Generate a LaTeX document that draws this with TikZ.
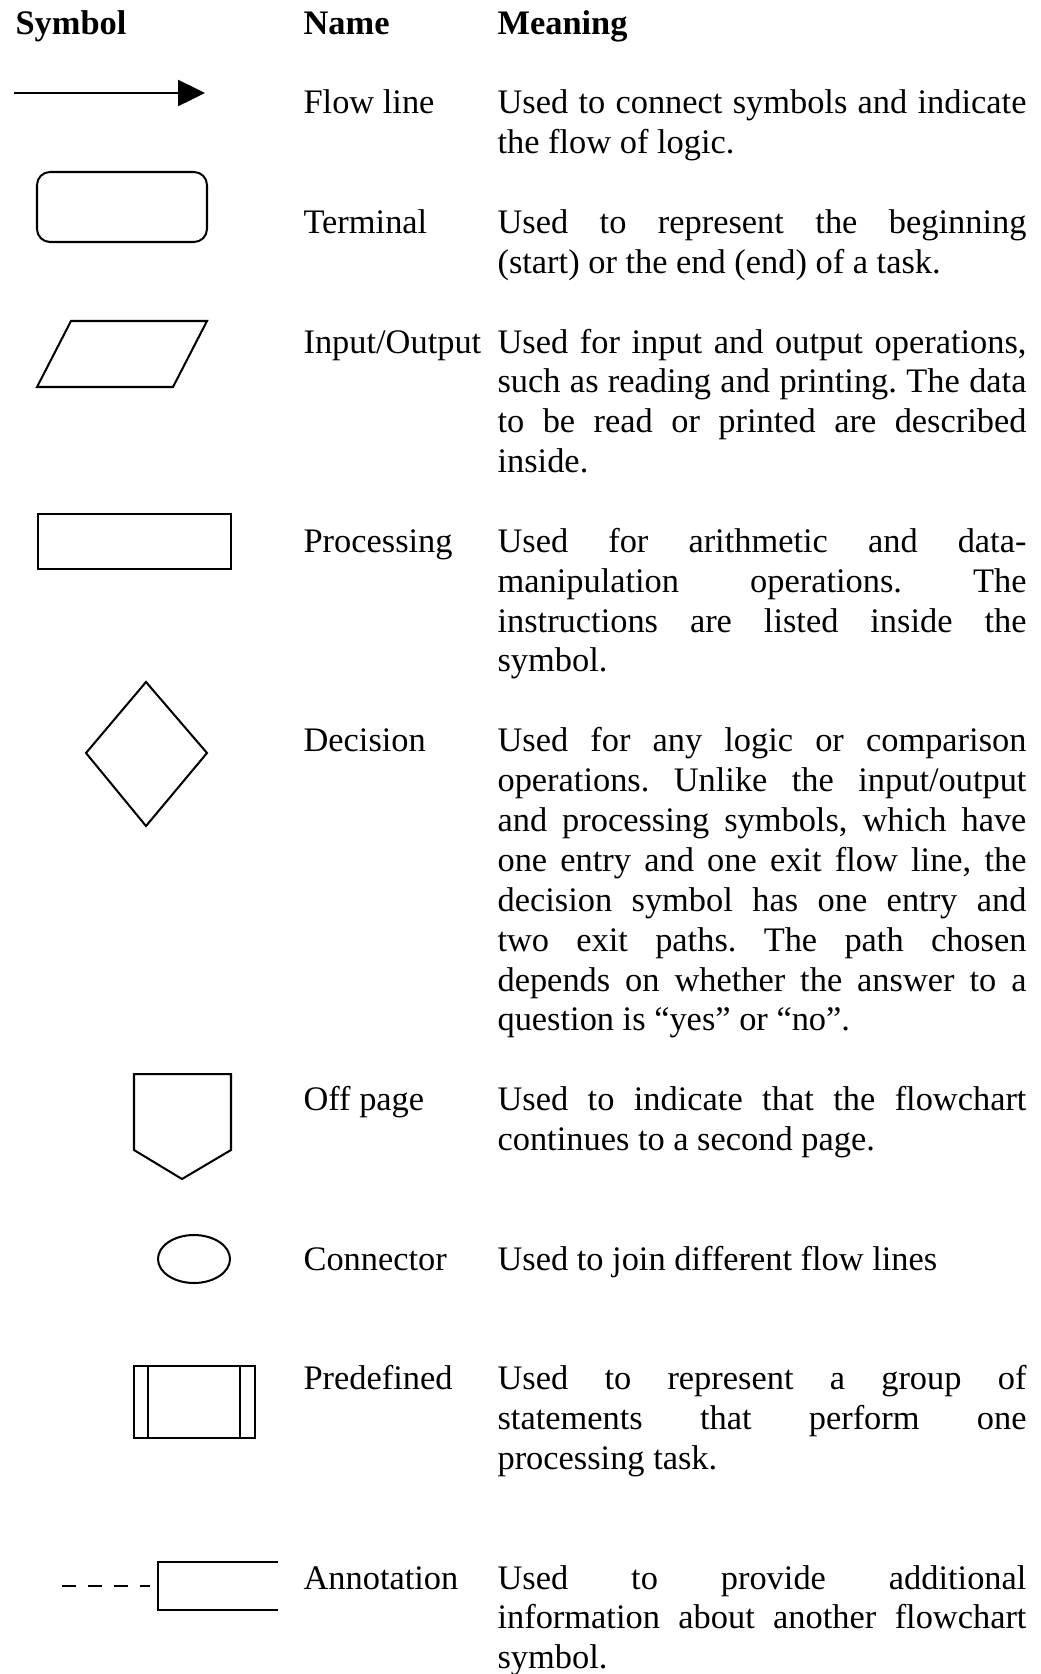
\documentclass[tikz,border=0pt]{standalone}
\usepackage{fontspec}
\setmainfont{Liberation Serif}
\usetikzlibrary{arrows.meta, positioning}
\newlength{\meaningwidth}
\setlength{\meaningwidth}{183pt}
\newcommand{\tablefont}{\fontsize{11.9pt}{13.8pt}\selectfont\frenchspacing}
\newcommand{\spreadline}[1]{\makebox[\meaningwidth][s]{\spaceskip=0pt\xspaceskip=0pt\relax #1}}
\tikzset{
    head_text/.style={anchor=base west, inner sep=0pt, font=\tablefont\bfseries},
    name_text/.style={anchor=base west, inner sep=0pt, font=\tablefont},
    meaning_text/.style={anchor=base west, inner sep=0pt, font=\tablefont, text width=\meaningwidth,
        execute at begin node={\spaceskip=0pt\xspaceskip=0pt\relax}},
    symbol_line/.style={line width=0.7pt},
    flow_arrow/.style={line width=0.7pt, -{Triangle[length=9.3pt, width=9pt]}},
    annot_dash/.style={line width=0.7pt, dash pattern=on 4.8pt off 4.2pt},
}
\begin{document}
\begin{tikzpicture}[x=0.346pt, y=-0.346pt]
            \useasboundingbox (0,0) rectangle (1040,1674);
            %%%%%%%%%%
            % HEADER %
            %%%%%%%%%%
            \node (head_symbol) [head_text] at (15,34) {Symbol};
            \node (head_name) [head_text] at (303,34) {Name};
            \node (head_meaning) [head_text] at (497,34) {Meaning};

            %%%%%%%%%%%%%
            % FLOW LINE %
            %%%%%%%%%%%%%
            \coordinate (flow_start) at (14,93);
            \coordinate (flow_end) at (205,93);
            \draw [flow_arrow] (flow_start) -- (flow_end);
            \node (name_flow) [name_text] at (303,113.7) {Flow line};
            \node (meaning_flow) [meaning_text] at (497,113.7)
                    {\spreadline{Used to connect symbols and indicate}\\
                     the flow of logic.};

            %%%%%%%%%%%%
            % TERMINAL %
            %%%%%%%%%%%%
            \draw [symbol_line, rounded corners=4.5pt] (37,172) rectangle (207,242);
            \node (name_terminal) [name_text] at (303,233.4) {Terminal};
            \node (meaning_terminal) [meaning_text] at (497,233.4)
                    {\spreadline{Used to represent the beginning}\\
                     (start) or the end (end) of a task.};

            %%%%%%%%%%%%%%%%
            % INPUT/OUTPUT %
            %%%%%%%%%%%%%%%%
            \draw [symbol_line] (71,321) -- (207,321) -- (173,387) -- (37,387) -- cycle;
            \node (name_io) [name_text] at (303,353) {Input/Output};
            \node (meaning_io) [meaning_text] at (497,353)
                    {\spreadline{Used for input and output operations,}\\
                     \spreadline{such as reading and printing. The data}\\
                     \spreadline{to be read or printed are described}\\
                     inside.};

            %%%%%%%%%%%%%%
            % PROCESSING %
            %%%%%%%%%%%%%%
            \draw [symbol_line] (38,514) rectangle (231,569);
            \node (name_process) [name_text] at (303,552.3) {Processing};
            \node (meaning_process) [meaning_text] at (497,552.3)
                    {\spreadline{Used for arithmetic and data-}\\
                     \spreadline{manipulation operations. The}\\
                     \spreadline{instructions are listed inside the}\\
                     symbol.};

            %%%%%%%%%%%%
            % DECISION %
            %%%%%%%%%%%%
            \draw [symbol_line] (146,682) -- (207,753) -- (146,826) -- (86,753) -- cycle;
            \node (name_decision) [name_text] at (303,751.7) {Decision};
            \node (meaning_decision) [meaning_text] at (497,751.7)
                    {\spreadline{Used for any logic or comparison}\\
                     \spreadline{operations. Unlike the input/output}\\
                     \spreadline{and processing symbols, which have}\\
                     \spreadline{one entry and one exit flow line, the}\\
                     \spreadline{decision symbol has one entry and}\\
                     \spreadline{two exit paths. The path chosen}\\
                     \spreadline{depends on whether the answer to a}\\
                     question is “yes” or “no”.};

            %%%%%%%%%%%%
            % OFF PAGE %
            %%%%%%%%%%%%
            \draw [symbol_line] (134,1074) -- (231,1074) -- (231,1150) -- (182,1179) -- (134,1150) -- cycle;
            \node (name_offpage) [name_text] at (303,1110.5) {Off page};
            \node (meaning_offpage) [meaning_text] at (497,1110.5)
                    {\spreadline{Used to indicate that the flowchart}\\
                     continues to a second page.};

            %%%%%%%%%%%%%
            % CONNECTOR %
            %%%%%%%%%%%%%
            \draw [symbol_line] (194,1259) ellipse [x radius=12.46pt, y radius=8.3pt];
            \node (name_connector) [name_text] at (303,1270) {Connector};
            \node (meaning_connector) [meaning_text] at (497,1270)
                    {Used to join different flow lines};

            %%%%%%%%%%%%%%
            % PREDEFINED %
            %%%%%%%%%%%%%%
            \draw [symbol_line] (134,1366) rectangle (255,1438);
            \draw [symbol_line] (148,1366) -- (148,1438);
            \draw [symbol_line] (240,1366) -- (240,1438);
            \node (name_predefined) [name_text] at (303,1389.6) {Predefined};
            \node (meaning_predefined) [meaning_text] at (497,1389.6)
                    {\spreadline{Used to represent a group of}\\
                     \spreadline{statements that perform one}\\
                     processing task.};

            %%%%%%%%%%%%%%
            % ANNOTATION %
            %%%%%%%%%%%%%%
            \coordinate (annot_from) at (62,1586);
            \coordinate (annot_to) at (150,1586);
            \draw [annot_dash] (annot_from) -- (annot_to);
            \draw [symbol_line] (278,1562) -- (158,1562) -- (158,1610) -- (278,1610);
            \node (name_annotation) [name_text] at (303,1589) {Annotation};
            \node (meaning_annotation) [meaning_text] at (497,1589)
                    {\spreadline{Used to provide additional}\\
                     \spreadline{information about another flowchart}\\
                     symbol.};
\end{tikzpicture}
\end{document}
